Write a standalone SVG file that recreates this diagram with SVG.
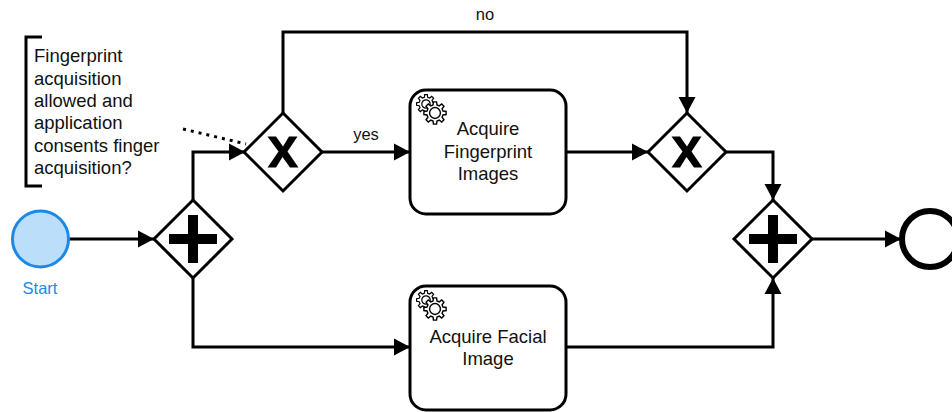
<svg xmlns="http://www.w3.org/2000/svg" width="952" height="412" viewBox="0 0 952 412">
<style>
text{font-family:"Liberation Sans",Arial,sans-serif;font-size:18.500px;fill:#111;text-anchor:middle}
.l{font-size:16.500px}
.a{text-anchor:start}
.c{fill:none;stroke:#000;stroke-width:3}
.gw{fill:#fff;stroke:#000;stroke-width:3;stroke-linejoin:miter}
.task{fill:#fff;stroke:#000;stroke-width:3}
.gear{fill:#fff;stroke:#000;stroke-width:1.200}
</style>
<defs>
<marker id="arr" markerUnits="userSpaceOnUse" markerWidth="17" markerHeight="18" refX="16" refY="9" orient="auto"><path d="M0 .5L16 9L0 17.500Z" fill="#000"/></marker>
<path id="gearShape" class="gear" d="M6.79-1.69L9.41-1.32L9.41 1.32L6.79 1.69L6 3.61L7.59 5.72L5.72 7.59L3.61 6L1.69 6.79L1.32 9.41L-1.32 9.41L-1.69 6.79L-3.61 6L-5.72 7.59L-7.59 5.72L-6 3.61L-6.79 1.69L-9.41 1.32L-9.41-1.32L-6.79-1.69L-6-3.61L-7.59-5.72L-5.72-7.59L-3.61-6L-1.69-6.79L-1.32-9.41L1.32-9.41L1.69-6.79L3.61-6L5.72-7.59L7.59-5.72L6-3.61Z"/>
<g id="gears">
<use href="#gearShape" transform="translate(-9,-9)"/>
<circle cx="-9" cy="-9" r="4.200" class="gear"/>
<g transform="scale(1.180)"><use href="#gearShape"/><circle r="4.600" class="gear"/></g>
</g>
<path id="plus" d="M-5-24H5V-5H24V5H5V24H-5V5H-24V-5H-5Z" fill="#000"/>
<path id="ex" d="M-15.500-15.500H-7L0-5.500L6-15.500H14.500L4.500-.5L15.500 15.500H7L-.5 5L-7 15.500H-15.500L-4.500-.5Z" fill="#000"/>
</defs>
<g id="connectors">
<path class="c" marker-end="url(#arr)" d="M69 239H154"/>
<path class="c" marker-end="url(#arr)" d="M193 200V152H245"/>
<path class="c" marker-end="url(#arr)" d="M193 278V347H410"/>
<path class="c" marker-end="url(#arr)" d="M283 113V32H687V113"/>
<path class="c" marker-end="url(#arr)" d="M322 152H410"/>
<path class="c" marker-end="url(#arr)" d="M566 152H648"/>
<path class="c" marker-end="url(#arr)" d="M726 152H773V200"/>
<path class="c" marker-end="url(#arr)" d="M566 347H773V278"/>
<path class="c" marker-end="url(#arr)" d="M812 239H901"/>
<path d="M183 129L246 144" fill="none" stroke="#000" stroke-width="3" stroke-dasharray="3 5"/>
</g>
<g id="annotation">
<path class="c" d="M42 37H26V186H42"/>
<text class="a" x="34" y="62">Fingerprint</text>
<text class="a" x="34" y="84.500">acquisition</text>
<text class="a" x="34" y="107">allowed and</text>
<text class="a" x="34" y="129">application</text>
<text class="a" x="34" y="151.500">consents finger</text>
<text class="a" x="34" y="174">acquisition?</text>
</g>
<g id="start"><circle cx="40.500" cy="239" r="28" fill="#BBDEFB" stroke="#1E88E5" stroke-width="3"/><text class="l" x="40" y="294" style="fill:#1E88E5">Start</text></g>
<g id="split"><path class="gw" d="M193 200L232 239L193 278L154 239Z"/><use href="#plus" x="193" y="239"/></g>
<g id="gateway1"><path class="gw" d="M283 113L322 152L283 191L244 152Z"/><use href="#ex" x="283" y="152"/></g>
<g id="gateway2"><path class="gw" d="M687 113L726 152L687 191L648 152Z"/><use href="#ex" x="687" y="152"/></g>
<g id="join"><path class="gw" d="M773 200L812 239L773 278L734 239Z"/><use href="#plus" x="773" y="239"/></g>
<g id="end"><circle cx="930" cy="239" r="28" fill="#fff" stroke="#000" stroke-width="6"/></g>
<g id="task1"><rect class="task" x="410" y="90" width="156" height="124" rx="16"/><use href="#gears" x="435" y="113"/><text x="488" y="135">Acquire</text><text x="488" y="158">Fingerprint</text><text x="488" y="180">Images</text></g>
<g id="task2"><rect class="task" x="410" y="286" width="156" height="124" rx="16"/><use href="#gears" x="435" y="309"/><text x="488" y="343">Acquire Facial</text><text x="488" y="365">Image</text></g>
<text id="lblNo" class="l" x="485" y="20">no</text>
<text id="lblYes" class="l" x="366" y="140">yes</text>
</svg>
